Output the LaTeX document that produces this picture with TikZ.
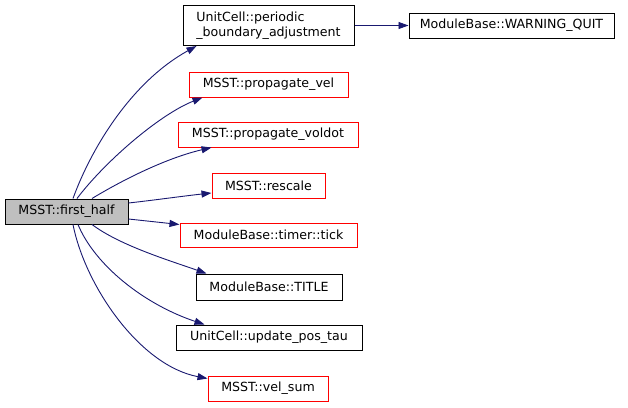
\documentclass[tikz,border=0pt]{standalone}
\usepackage{fontspec}
\setmainfont{DejaVu Sans}
\usetikzlibrary{arrows.meta}
\definecolor{edgeblue}{HTML}{191970}
\definecolor{nodered}{HTML}{FF0000}
\tikzset{
  fn/.style={draw=black, line width=1pt, fill=white, inner sep=0pt, font=\fontsize{12.6}{15}\selectfont},
  fnred/.style={fn, draw=nodered},
  fnmain/.style={fn, fill=black!25},
  edge/.style={draw=edgeblue, line width=0.9pt, -{Triangle[length=10pt,width=7pt]}}
}
\begin{document}
\begin{tikzpicture}[x=1pt,y=1pt]
\useasboundingbox (0,0) rectangle (628,-407);
\node[fnmain, minimum width=123, minimum height=25] (fh) at (66.5,-211.5) {MSST::first\_half};
\node[fn, minimum width=171, minimum height=40, align=left] (pb) at (268.5,-25.5) {UnitCell::periodic\\\_boundary\_adjustment};
\node[fn, minimum width=205, minimum height=25] (wq) at (511.5,-25.5) {ModuleBase::WARNING\_QUIT};
\node[fnred, minimum width=159, minimum height=25] (pv) at (268.5,-84.5) {MSST::propagate\_vel};
\node[fnred, minimum width=180, minimum height=25] (pvd) at (268,-134.5) {MSST::propagate\_voldot};
\node[fnred, minimum width=113, minimum height=25] (rs) at (268.5,-186) {MSST::rescale};
\node[fnred, minimum width=177, minimum height=24] (tt) at (268.5,-235) {ModuleBase::timer::tick};
\node[fn, minimum width=146, minimum height=26] (ti) at (269,-287) {ModuleBase::TITLE};
\node[fn, minimum width=186, minimum height=25] (up) at (269,-337.5) {UnitCell::update\_pos\_tau};
\node[fnred, minimum width=120, minimum height=25] (vs) at (268,-388.5) {MSST::vel\_sum};

\draw[edge] ([xshift=6.5pt]fh.north) .. controls +(17,47) and +(-67,-37) .. ([xshift=14pt]pb.south west);
\draw[edge] ([xshift=10.5pt]fh.north) .. controls +(28,37) and +(-43,-17) .. ([xshift=14pt]pv.south west);
\draw[edge] ([xshift=25.5pt]fh.north) .. controls +(28,17) and +(-47,-11) .. ([xshift=34pt]pvd.south west);
\draw[edge] ([yshift=8.5pt]fh.east) .. controls +(27,3) and +(-28,-3) .. ([yshift=-7pt]rs.west);
\draw[edge] ([yshift=-7.5pt]fh.east) -- ([yshift=-2pt]tt.north west);
\draw[edge] ([xshift=25.5pt]fh.south) .. controls +(28,-21) and +(-37,13) .. ([xshift=11pt]ti.north west);
\draw[edge] ([xshift=11.5pt]fh.south) .. controls +(17,-41) and +(-60,20) .. ([xshift=29pt]up.north west);
\draw[edge] ([xshift=6.5pt]fh.south) .. controls +(12,-61) and +(-68,13) .. ([yshift=10pt]vs.west);
\draw[edge] (pb.east) -- (wq.west);
\end{tikzpicture}
\end{document}
